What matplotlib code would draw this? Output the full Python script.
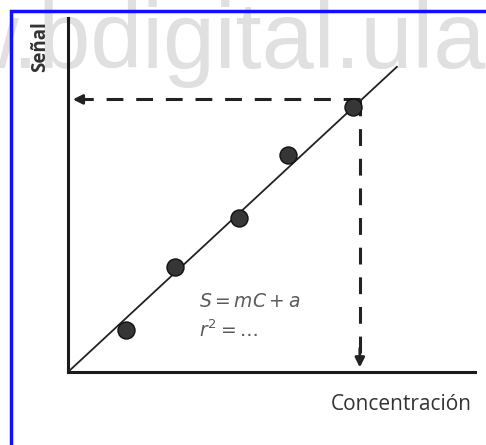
import matplotlib.pyplot as plt
from matplotlib.patches import Rectangle

# calibration data (arbitrary units)
conc = [1.43, 2.63, 4.20, 5.41, 7.00]
signal = [1.19, 2.97, 4.35, 6.13, 7.49]
line_x = [0.0, 8.08]
line_y = [0.0, 8.62]
unknown_x = 7.17
unknown_y = 7.70

fig = plt.figure(figsize=(4.86, 4.45), dpi=100)
fig.patch.set_facecolor('white')

# blue frame around the picture
fig.patches.append(Rectangle((11 / 486, -0.05), 1.2, (445 - 11) / 445 + 0.05,
                             transform=fig.transFigure, fill=False,
                             edgecolor='#1010ff', linewidth=2.5, zorder=0.5))

# watermark (behind the frame)
fig.text(-0.1025, 1 - 68 / 445, 'w.bdigital.ula', fontsize=67.4, color='#e0e0e0',
         family='Liberation Sans', ha='left', va='baseline', zorder=-1)

ax = fig.add_axes([68 / 486, (445 - 372) / 445, (475 - 68) / 486, (372 - 18) / 445])
ax.patch.set_alpha(0)
ax.set_xlim(0, 10)
ax.set_ylim(0, 10)
for s in ['top', 'right']:
    ax.spines[s].set_visible(False)
for s in ['left', 'bottom']:
    ax.spines[s].set_linewidth(2.2)
    ax.spines[s].set_color('#1a1a1a')
ax.set_xticks([])
ax.set_yticks([])

ax.plot(line_x, line_y, color='#222222', lw=1.3, zorder=3)
ax.scatter(conc, signal, s=150, color='#363636', edgecolor='#111111', zorder=4)

# dashed read-off lines
dash = (0, (5.5, 4.2))
ax.plot([unknown_x, 0.3], [unknown_y, unknown_y], ls=dash,
        color='#222222', lw=2.2, zorder=3)
ax.plot([unknown_x, unknown_x], [unknown_y, 0.4], ls=dash,
        color='#222222', lw=2.2, zorder=3)
ax.annotate('', xy=(0.05, unknown_y), xytext=(0.6, unknown_y),
            arrowprops=dict(arrowstyle='-|>', color='#222222', lw=2, mutation_scale=14))
ax.annotate('', xy=(unknown_x, 0.05), xytext=(unknown_x, 0.75),
            arrowprops=dict(arrowstyle='-|>', color='#222222', lw=2, mutation_scale=14))

ax.text(3.23, 2.0, r'$S = mC + a$', fontsize=13.5, color='#5a5a5a', va='center')
ax.text(3.23, 1.19, r'$r^2 = \ldots$', fontsize=13.5, color='#5a5a5a', va='center')

fig.text(40 / 486, 1 - 21 / 445, 'Señal', rotation=90, ha='center', va='top',
         fontsize=13.5, fontweight='bold', color='#333333', family='Open Sans')
fig.text(472 / 486, 1 - 405 / 445, 'Concentración', ha='right', va='center',
         fontsize=15, color='#333333', family='Open Sans')

fig.savefig('out.png', dpi=100)
